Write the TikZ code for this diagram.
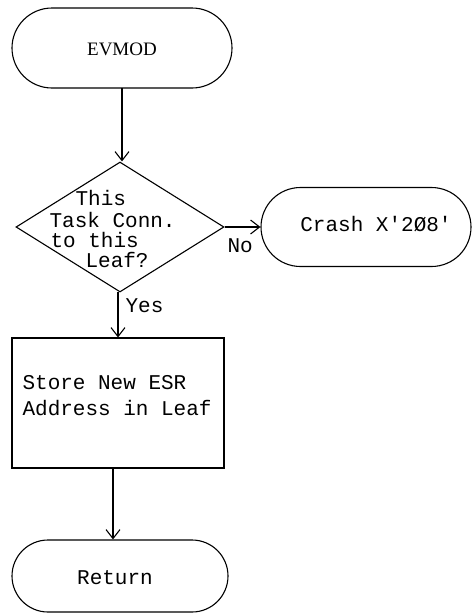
\documentclass[tikz,border=0pt]{standalone}
\usepackage{fontspec}
\setmainfont{Liberation Serif}
\newfontfamily\cour{Liberation Mono}
\usetikzlibrary{shapes.misc,shapes.geometric,arrows.meta}
\begin{document}
\begin{tikzpicture}[x=1pt,y=-1pt,
  line width=1.1pt,
  term/.style={draw,rounded rectangle,inner sep=0pt},
  proc/.style={draw,rectangle,inner sep=0pt},
  dec/.style={draw,diamond,inner sep=0pt},
  mono/.style={font=\cour\fontsize{21}{24}\selectfont,inner sep=0pt},
  conn/.style={-{Straight Barb[length=9pt,width=14pt,line width=1.1pt]}},
]
\useasboundingbox (0,0) rectangle (474,616);
% Nodes
\node[term,minimum width=220pt,minimum height=80pt] (evmod) at (122,48) {};
\node[font=\fontsize{19}{22}\selectfont] (evmodt) at (122,49) {EVMOD};
\node[dec,minimum width=208pt,minimum height=130pt] (dec) at (120,227) {};
\node[mono,anchor=base west] (l1) at (75,205) {This};
\node[mono,anchor=base west] (l2) at (49,227) {Task Conn.};
\node[mono,anchor=base west] (l3) at (50,247) {to this};
\node[mono,anchor=base west] (l4) at (85,267) {Leaf?};
\node[term,minimum width=210pt,minimum height=79pt] (crash) at (366,227) {};
\node[mono] (crasht) at (376,224) {Crash X'2Ø8'};
\node[proc,minimum width=212pt,minimum height=130pt] (store) at (118,403) {};
\node[mono,anchor=base west] (s1) at (22,389) {Store New ESR};
\node[mono,anchor=base west] (s2) at (22,415) {Address in Leaf};
\node[term,minimum width=216pt,minimum height=72pt] (ret) at (120,576) {};
\node[mono] (rett) at (115,578) {Return};
% Connectors
\coordinate (ea) at (122,88);
\draw[conn] (ea) -- (ea |- dec.north);
\draw[conn] (dec.east) -- (crash.west);
\node[mono,anchor=base west] (no) at (227,252) {No};
\coordinate (da) at (118,292);
\draw[conn] (da) -- (da |- store.north);
\node[mono,anchor=base west] (yes) at (125,312) {Yes};
\coordinate (sb) at (113,468);
\draw[conn] (sb) -- (sb |- ret.north);
\end{tikzpicture}
\end{document}
